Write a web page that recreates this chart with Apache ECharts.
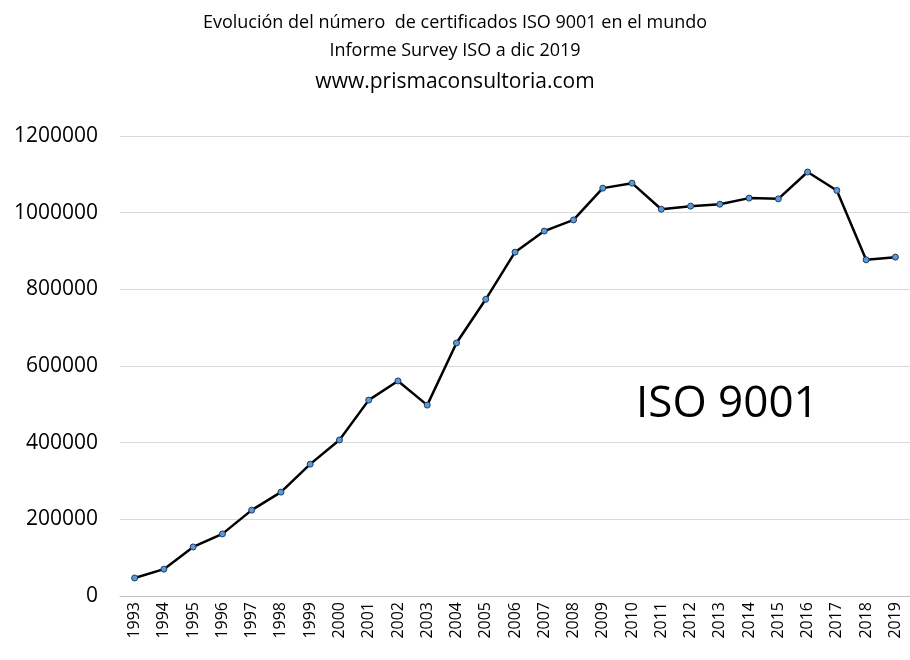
<!DOCTYPE html>
<html>
<head>
<meta charset="utf-8">
<title>ISO 9001</title>
<script src="https://cdn.jsdelivr.net/npm/echarts@6/dist/echarts.min.js"></script>
</head>
<body style="margin:0;background:#fff">
<div id="main" style="width:910px;height:660px;"></div>
<script type="text/javascript">
var years = ['1993','1994','1995','1996','1997','1998','1999','2000','2001','2002','2003','2004','2005','2006','2007','2008','2009','2010','2011','2012','2013','2014','2015','2016','2017','2018','2019'];
var certificados = [47000,70000,128000,162000,224000,271000,344000,407000,511000,561000,498000,660000,774000,897000,952000,981000,1064000,1077000,1009000,1017000,1022000,1038000,1036000,1106000,1058000,877000,884000];

var myChart = echarts.init(document.getElementById('main'));
var font = '"Open Sans", "Noto Sans", sans-serif';
var option = {
    textStyle: {fontFamily: font},
    animation: false,
    graphic: [
        {type: 'text', left: 'center', top: 14, style: {text: 'Evolución del número  de certificados ISO 9001 en el mundo', font: '18px ' + font, fill: '#000'}},
        {type: 'text', left: 'center', top: 42, style: {text: 'Informe Survey ISO a dic 2019', font: '18px ' + font, fill: '#000'}},
        {type: 'text', left: 'center', top: 72, style: {text: 'www.prismaconsultoria.com', font: '21px ' + font, fill: '#000'}},
        {type: 'text', left: 636, top: 382, style: {text: 'ISO 9001', font: '44px ' + font, fill: '#000'}}
    ],
    grid: {left: 120, right: 0, top: 136, bottom: 64},
    xAxis: {
        type: 'category',
        data: years,
        boundaryGap: true,
        axisLine: {lineStyle: {color: '#bfbfbf'}},
        axisTick: {show: false},
        axisLabel: {rotate: 90, color: '#000', fontSize: 16, fontFamily: font, margin: 6}
    },
    yAxis: {
        type: 'value',
        min: 0, max: 1200000, interval: 200000,
        axisLine: {show: false},
        axisTick: {show: false},
        splitLine: {lineStyle: {color: '#d9d9d9'}},
        axisLabel: {color: '#000', fontSize: 21, fontFamily: font, margin: 22,
            formatter: function (v) { return String(v); }}
    },
    series: [{
        type: 'line',
        data: certificados,
        symbol: 'circle',
        symbolSize: 6,
        lineStyle: {color: '#000', width: 2.5},
        itemStyle: {color: '#5b9bd5', borderColor: '#1f3864', borderWidth: 1}
    }]
};
myChart.setOption(option);
</script>
</body>
</html>
